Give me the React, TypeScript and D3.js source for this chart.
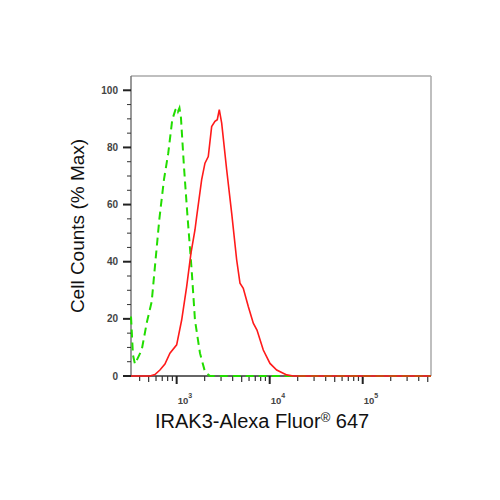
import React from "react";
import * as d3 from "d3";

// Isotype control (green dashed): fluorescence intensity, % of max
const isoX = [323, 339, 356, 421, 479, 539, 650, 730, 812, 897, 971, 1000, 1033, 1072, 1112, 1198, 1300, 1450, 1573, 1781, 2015, 2281, 542000];
const isoY = [20.8, 7.4, 4.2, 9.1, 18.9, 26, 54.6, 68.7, 78, 89.7, 93.2, 93.8, 92.5, 93.8, 90.4, 73.3, 57, 37.1, 19.6, 8, 1.5, 0, 0];

// IRAK3 stained (red solid)
const irakX = [323, 516, 584, 661, 748, 847, 1000, 1132, 1281, 1425, 1573, 1641, 1857, 2015, 2187, 2378, 2581, 2733, 2872, 3048, 3449, 3903, 4418, 4794, 5201, 5888, 6664, 7302, 8534, 10074, 11894, 15234, 17940, 542000];
const irakY = [0, 0, 0.5, 2.1, 4.2, 8, 10.9, 19.6, 31.3, 43, 51.1, 55.8, 68.7, 74.5, 76.8, 87.3, 89.1, 89.7, 93.2, 88.5, 72.2, 57, 40.6, 32.5, 30.7, 24.3, 18.5, 16.1, 9.1, 4.4, 2.1, 0.4, 0, 0];

const yTicks = [0, 20, 40, 60, 80, 100];
const xMajor = [1e3, 1e4, 1e5];
const xExp = ["3", "4", "5"];

const xTitle = "IRAK3-Alexa Fluor";
const xTitleSup = "®";
const xTitleEnd = " 647";
const yTitle = "Cell Counts (% Max)";

export default function App() {
  const L = 131, R = 431, T = 76, B = 376;
  const x = d3.scaleLog().domain([323, 542000]).range([L, R]);
  const y = d3.scaleLinear().domain([0, 105]).range([B, T]);

  const line = d3.line<[number, number]>().x((d) => x(d[0])).y((d) => y(d[1]));
  const isoPts = isoX.map((v, i) => [v, isoY[i]] as [number, number]);
  const irakPts = irakX.map((v, i) => [v, irakY[i]] as [number, number]);

  const minorX: { v: number; mid: boolean }[] = [];
  for (let e = 2; e <= 5; e++) {
    for (let m = 2; m <= 9; m++) {
      const v = m * Math.pow(10, e);
      if (v >= 323 && v <= 542000) minorX.push({ v, mid: m === 5 });
    }
  }
  const minorY = d3.range(0, 101, 5).filter((v) => v % 20 !== 0);

  const font = "Liberation Sans, Arial, sans-serif";

  return (
    <svg width={500} height={500} style={{ position: "absolute", left: 0, top: 0, background: "#fff" }} fontFamily={font}>
      <rect x={0} y={0} width={500} height={500} fill="#fff" />
      {/* frame */}
      <line x1={L} y1={T} x2={R} y2={T} stroke="#aaa" strokeWidth={1.5} />
      <line x1={R} y1={T} x2={R} y2={B} stroke="#aaa" strokeWidth={1.5} />
      <line x1={L} y1={T} x2={L} y2={B} stroke="#777" strokeWidth={1.5} />
      <line x1={L} y1={B} x2={R} y2={B} stroke="#333" strokeWidth={1.5} />

      {/* y ticks */}
      {yTicks.map((t) => (
        <g key={"yt" + t}>
          <line x1={L - 8} x2={L} y1={y(t)} y2={y(t)} stroke="#222" strokeWidth={2} />
          <text x={118} y={y(t) + 3.5} textAnchor="end" fontSize={10} fontWeight="bold" fill="#444">{t}</text>
        </g>
      ))}
      {minorY.map((t) => (
        <line key={"ym" + t} x1={L - 4} x2={L} y1={y(t)} y2={y(t)} stroke="#333" strokeWidth={1} />
      ))}

      {/* x ticks */}
      {minorX.map((t) => (
        <line key={"xm" + t.v} x1={x(t.v)} x2={x(t.v)} y1={B} y2={B + (t.mid ? 6 : 5)} stroke="#333" strokeWidth={1.2} />
      ))}
      {xMajor.map((t, i) => (
        <g key={"xt" + t}>
          <line x1={x(t)} x2={x(t)} y1={B} y2={B + 8} stroke="#222" strokeWidth={2} />
          <text x={x(t) + 1} y={403.5} fontSize={9.5} fontWeight="bold" fill="#444">10</text>
          <text x={x(t) + 11.5} y={398} fontSize={7} fontWeight="bold" fill="#444">{xExp[i]}</text>
        </g>
      ))}

      {/* curves */}
      <path d={line(isoPts) || ""} fill="none" stroke="#22dd00" strokeWidth={2} strokeDasharray="8,5" />
      <path d={line(irakPts) || ""} fill="none" stroke="#ff1a1a" strokeWidth={1.6} />

      {/* titles */}
      <text x={155} y={428.3} fontSize={20} fill="#111">
        {xTitle}
        <tspan fontSize={13} dy={-6}>{xTitleSup}</tspan>
        <tspan dy={6}>{xTitleEnd}</tspan>
      </text>
      <text transform="translate(84,226) rotate(-90)" textAnchor="middle" fontSize={19} fill="#111">{yTitle}</text>
    </svg>
  );
}
